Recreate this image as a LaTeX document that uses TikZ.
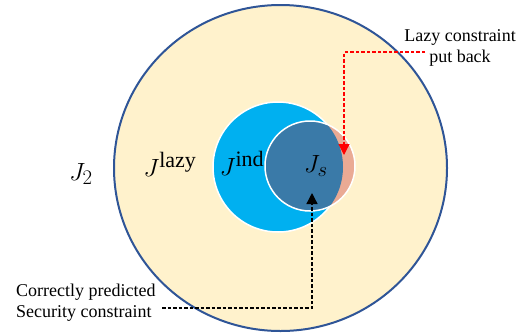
\documentclass[tikz,border=0pt]{standalone}
\usepackage{fontspec}
\setmainfont{Liberation Serif}
\usepackage{tikz}
\usetikzlibrary{arrows.meta, positioning}

\definecolor{setcream}{HTML}{FFF2CC}
\definecolor{setedge}{HTML}{2F5597}
\definecolor{indblue}{HTML}{00B0F0}
\definecolor{sdark}{HTML}{3A7AA8}
\definecolor{lazysalmon}{HTML}{EAAA94}

\tikzset{
    setlabel/.style={font=\fontsize{29}{30}\selectfont, inner sep=0pt},
    notetext/.style={font=\fontsize{18}{21}\selectfont, inner sep=1pt},
    pointer/.style={dash pattern=on 3.5pt off 2pt, line width=1.3pt, -{Triangle[length=11pt, width=11pt]}},
}

\begin{document}
\begin{tikzpicture}[x=1pt, y=-1pt]
    \useasboundingbox (0,0) rectangle (532,335);

    % outer set J_2
    \draw[fill=setcream, draw=setedge, line width=2pt] (280.5,168) ellipse [x radius=166.5pt, y radius=163pt];

    % J^ind and J_s
    \fill[indblue] (278,167) circle [radius=65pt];
    \draw[white, line width=1.5pt] (278,167) circle [radius=65pt];
    \fill[lazysalmon] (310,166) circle [radius=45pt];
    \begin{scope}
        \clip (278,167) circle [radius=65pt];
        \fill[sdark] (310,166) circle [radius=45pt];
    \end{scope}
    \draw[white, line width=1.5pt] (310,166) circle [radius=45pt];

    % set names
    \node[setlabel] (jtwo) at (81,174) {$J_2$};
    \node[setlabel] (jlazy) at (170,164) {$J^{\hbox{\fontsize{22}{22}\selectfont lazy}}$};
    \node[setlabel] (jind) at (242,163) {$J^{\hbox{\fontsize{22}{22}\selectfont ind}}$};
    \node[setlabel] (js) at (316,166) {$J_s$};

    % notes
    \node[notetext, align=center, anchor=base] (lazynote) at (460,62) {Lazy constraint\\put back};
    \node[notetext, align=left, anchor=base west] (corrnote) at (15,317) {Correctly predicted\\Security constraint};

    \coordinate (lazyfrom) at (425,52);
    \coordinate (lazyto) at (344,155);
    \coordinate (corrfrom) at (162,308);
    \coordinate (corrto) at (312,193);

    \draw[pointer, red] (lazyfrom) -| (lazyto);
    \draw[pointer, black] (corrfrom) -| (corrto);
\end{tikzpicture}
\end{document}
